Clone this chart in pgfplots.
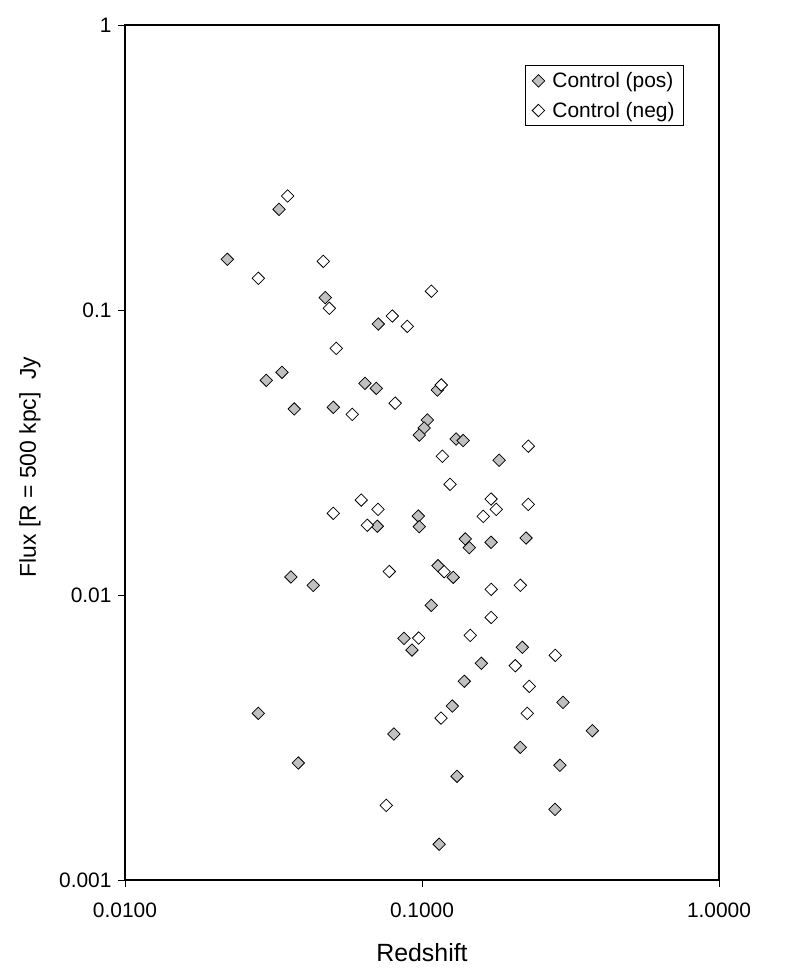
\documentclass[border=0pt]{standalone}
\usepackage{fontspec}
\setmainfont{Liberation Sans}
\usepackage{pgfplots}
\pgfplotsset{compat=1.18}
\definecolor{markgray}{RGB}{192,192,192}
\newcommand{\legfont}{\fontsize{21}{24}\selectfont}

\begin{document}
\begin{tikzpicture}
\path[use as bounding box] (-125bp,-98bp) rectangle (660bp,880bp);
\begin{axis}[
  at={(0,0)}, anchor=south west,
  scale only axis, width=594bp, height=855bp,
  xmode=log, ymode=log,
  xmin=0.01, xmax=1, ymin=0.001, ymax=1,
  xtick={0.01,0.1,1}, xticklabels={0.0100,0.1000,1.0000},
  ytick={0.001,0.01,0.1,1}, yticklabels={0.001,0.01,0.1,1},
  minor xtick={}, minor ytick={},
  minor tick style={draw=none},
  tick align=outside, major tick length=7bp,
  xtick pos=bottom, ytick pos=left,
  axis line style={line width=1.6bp},
  every tick/.style={black, line width=0.8bp},
  tick label style={font=\fontsize{21}{25}\selectfont},
  xticklabel style={yshift=-12bp},
  yticklabel style={xshift=-3bp},
  label style={font=\fontsize{25}{30}\selectfont},
  xlabel={Redshift},
  ylabel={Flux [R = 500 kpc]\ \ Jy},
  xlabel style={at={(axis description cs:0.5,-0.0854)}, anchor=center},
  ylabel style={at={(axis description cs:-0.16,0.483)}, anchor=center, font=\fontsize{23}{28}\selectfont},
  legend style={at={(0.941,0.953)}, anchor=north east, draw=black, line width=0.75bp,
    font=\legfont, inner xsep=7bp, inner ysep=5bp, /tikz/row sep=9bp},
  legend cell align=left,
]
\addplot[only marks, mark=square*, mark size=4.4bp, mark options={rotate=45, fill=markgray, draw=black, line width=0.75bp}]
coordinates {
(0.02211,0.1506) (0.03301,0.2256) (0.04724,0.1105) (0.07125,0.0893)
(0.02991,0.05666) (0.03378,0.06046) (0.03715,0.04495) (0.05027,0.04557)
(0.06427,0.05531) (0.07015,0.05312) (0.1126,0.05239) (0.1043,0.04112)
(0.1017,0.03855) (0.09792,0.03641) (0.1303,0.03526) (0.1376,0.03484)
(0.1819,0.02970) (0.09716,0.01893) (0.09792,0.01737) (0.07070,0.01743)
(0.1399,0.01573) (0.1443,0.01466) (0.1708,0.01531) (0.2240,0.01585)
(0.1132,0.01267) (0.1274,0.01154) (0.03621,0.01157) (0.04305,0.01081)
(0.1075,0.00920) (0.08697,0.007047) (0.09254,0.006412) (0.2177,0.006554)
(0.1584,0.005760) (0.1388,0.004981) (0.1265,0.004077) (0.2983,0.004201)
(0.02811,0.003844) (0.3746,0.003342) (0.08044,0.003253) (0.2143,0.002921)
(0.03833,0.002574) (0.2914,0.002527) (0.1312,0.002312) (0.2804,0.001770)
(0.1143,0.001335)
};
\addlegendentry{\legfont\ Control (pos)}
\addplot[only marks, mark=square*, mark size=4.4bp, mark options={rotate=45, fill=white, draw=black, line width=0.75bp}]
coordinates {
(0.03530,0.2512) (0.04652,0.1482) (0.02811,0.1292) (0.1076,0.1164)
(0.04874,0.1014) (0.07943,0.09526) (0.08921,0.08766) (0.05145,0.07337)
(0.1161,0.05456) (0.08124,0.04710) (0.05824,0.04305) (0.1171,0.03069)
(0.2280,0.03327) (0.1243,0.02445) (0.06245,0.02154) (0.07109,0.01998)
(0.05027,0.01935) (0.06543,0.01757) (0.1708,0.02172) (0.1779,0.01998)
(0.1608,0.01888) (0.2280,0.02080) (0.07761,0.01209) (0.1188,0.01207)
(0.1710,0.01047) (0.2143,0.01082) (0.1710,0.008340) (0.09748,0.007064)
(0.1454,0.007220) (0.2811,0.006143) (0.2061,0.005648) (0.2298,0.004782)
(0.2262,0.003844) (0.1159,0.003701) (0.07582,0.001828)
};
\addlegendentry{\legfont\ Control (neg)}
\end{axis}
\end{tikzpicture}
\end{document}
